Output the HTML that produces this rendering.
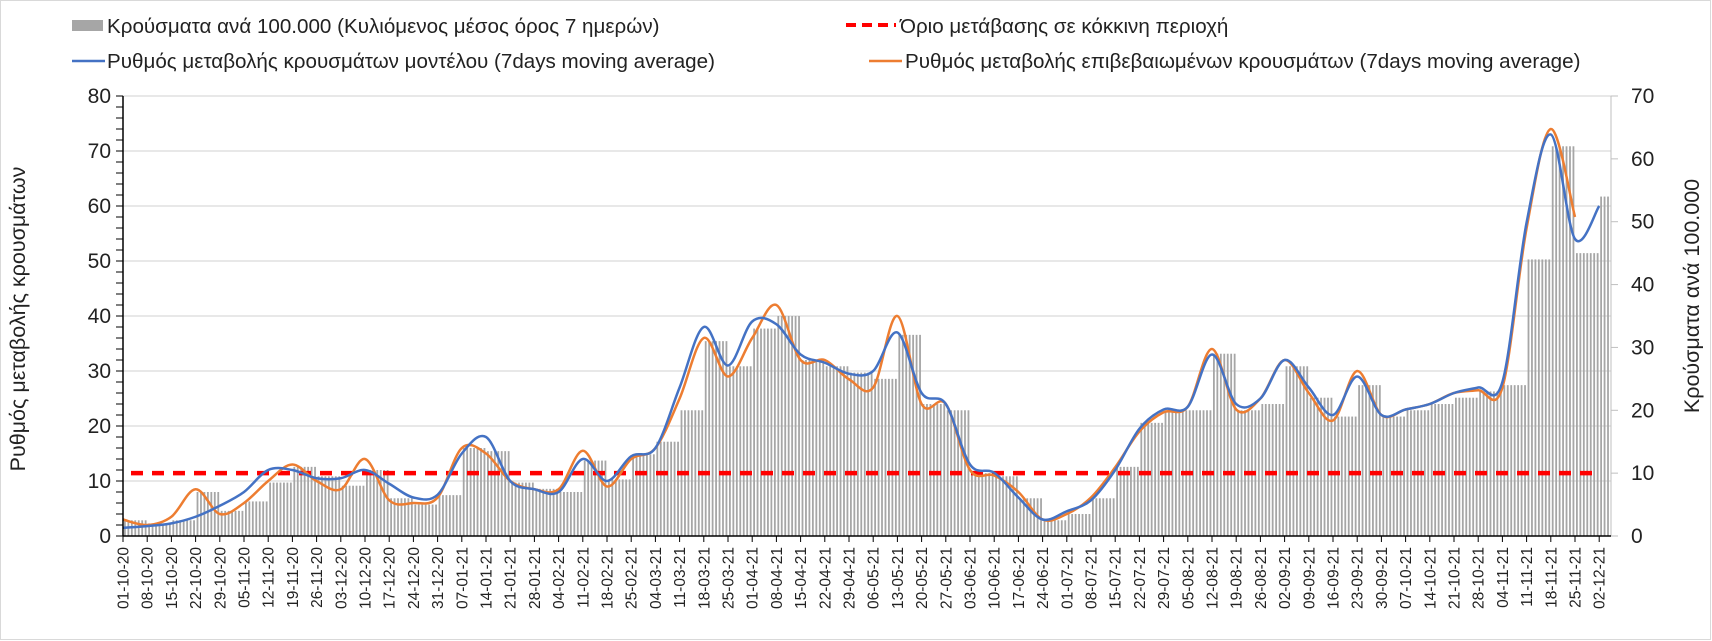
<!DOCTYPE html>
<html><head><meta charset="utf-8">
<style>
html,body{margin:0;padding:0;background:#fff;}
svg{display:block;font-family:"Liberation Sans",sans-serif;}
</style></head>
<body>
<svg id="chart" width="1712" height="641" viewBox="0 0 1712 641" xmlns="http://www.w3.org/2000/svg">
<rect x="0.5" y="0.5" width="1710" height="639" fill="#fff" stroke="#d9d9d9"/>
<g id="grid"></g>
<g id="bars"></g>
<g id="lines"></g>
<g id="axes"></g>
<g font-size="20.6" fill="#222">
  <g>
    <rect x="72" y="20" width="31" height="11" fill="#a6a6a6"/>
    <text x="107" y="33">Κρούσματα ανά 100.000 (Κυλιόμενος μέσος όρος 7 ημερών)</text>
  </g>
  <g>
    <line x1="846" y1="25" x2="896" y2="25" stroke="#ff0000" stroke-width="4" stroke-dasharray="10,6"/>
    <text x="900" y="33">Όριο μετάβασης σε κόκκινη περιοχή</text>
  </g>
  <g>
    <line x1="72" y1="61" x2="105" y2="61" stroke="#4472c4" stroke-width="2.5"/>
    <text x="107" y="68">Ρυθμός μεταβολής κρουσμάτων μοντέλου (7days moving average)</text>
  </g>
  <g>
    <line x1="869" y1="61" x2="902" y2="61" stroke="#ed7d31" stroke-width="2.5"/>
    <text x="905" y="68">Ρυθμός μεταβολής επιβεβαιωμένων κρουσμάτων (7days moving average)</text>
  </g>
</g>
<text transform="translate(25,319) rotate(-90)" text-anchor="middle" font-size="21.5" fill="#222">Ρυθμός μεταβολής κρουσμάτων</text>
<text transform="translate(1699,296) rotate(-90)" text-anchor="middle" font-size="21.5" fill="#222">Κρούσματα ανά 100.000</text>
</svg>
<script>
const dates=["01-10-20","08-10-20","15-10-20","22-10-20","29-10-20","05-11-20","12-11-20","19-11-20","26-11-20","03-12-20","10-12-20","17-12-20","24-12-20","31-12-20","07-01-21","14-01-21","21-01-21","28-01-21","04-02-21","11-02-21","18-02-21","25-02-21","04-03-21","11-03-21","18-03-21","25-03-21","01-04-21","08-04-21","15-04-21","22-04-21","29-04-21","06-05-21","13-05-21","20-05-21","27-05-21","03-06-21","10-06-21","17-06-21","24-06-21","01-07-21","08-07-21","15-07-21","22-07-21","29-07-21","05-08-21","12-08-21","19-08-21","26-08-21","02-09-21","09-09-21","16-09-21","23-09-21","30-09-21","07-10-21","14-10-21","21-10-21","28-10-21","04-11-21","11-11-21","18-11-21","25-11-21","02-12-21"];
const cases=[2.5,2,2.5,7,4,5.5,8.5,11,9.5,8,10.5,6,5,6.5,14,13.5,8.5,7.5,7,12,9,13,15,20,31,27,33,35,28,27,26,25,32,21,20,10,9.5,6,2.5,3.5,6,11,18,20,20,29,20,21,27,22,19,24,19,20,21,22,23,24,44,62,45,54];
const modelRate=[1.5,1.8,2.3,3.5,5.5,8,12,12,10.5,10.5,12,9.5,7,7.5,15,18,10,8.5,8,14,10,14.5,16,27,38,31,39,38.5,33,31.5,29.5,30,37,26,24,13,11.5,7,3,4.5,6.5,12,19.5,23,23.5,33,24,25,32,27,22,29,22,23,24,26,27,28,57,73,54,60];
const confRate=[3,2,3.5,8.5,4,6,10,13,10,8.5,14,6.5,6,7,16,15,10,8.5,8.5,15.5,9,14,16,25,36,29,36,42,32,32,28.5,27,40,24,24,12,11,8,3,4,7,12.5,19,22.5,23.5,34,23,25,32,26,21,30,22,23,24,26,26.5,27,56,74,58];
const leftTicks=[0,10,20,30,40,50,60,70,80];
const rightTicks=[0,10,20,30,40,50,60,70];
const redThreshold=10;

const NS="http://www.w3.org/2000/svg";
const X0=123, WEEK=24.2, Y0=536, YTOP=96, XR=1611;
const xW=i=>X0+i*WEEK;
const yL=v=>Y0-(Y0-YTOP)*v/80;
const yR=v=>Y0-(Y0-YTOP)*v/70;
function mk(tag,attrs,parent){const e=document.createElementNS(NS,tag);for(const k in attrs)e.setAttribute(k,attrs[k]);parent.appendChild(e);return e;}
const grid=document.getElementById('grid'),bars=document.getElementById('bars'),lines=document.getElementById('lines'),axes=document.getElementById('axes');

leftTicks.forEach(v=>{
  if(v>0){const g=mk('line',{x1:X0,x2:XR,y1:yL(v),y2:yL(v),stroke:'#d9d9d9','stroke-width':1.3},grid);
  
  }
  const t=mk('text',{x:X0-12,y:yL(v)+7,'text-anchor':'end','font-size':21,fill:'#222'},axes);
  t.textContent=v;
  
  
});
for(let v=0;v<=80;v+=2){mk('line',{x1:X0-7,x2:X0,y1:yL(v),y2:yL(v),stroke:'#000','stroke-width':1},axes);}
rightTicks.forEach(v=>{
  mk('line',{x1:XR,x2:XR+7,y1:yR(v),y2:yR(v),stroke:'#bfbfbf','stroke-width':1},axes);
  const t=mk('text',{x:XR+20,y:yR(v)+7,'font-size':21,fill:'#222'},axes);
  t.textContent=v;
  
  
});

cases.forEach((v,i)=>{
  for(let d=0;d<7;d++){
    const x=xW(i)+d*WEEK/7+1;
    if(x>XR-3)break;
    const b=mk('rect',{x:x,y:yR(v),width:1.8,height:Y0-yR(v),fill:'#a6a6a6'},bars);
    
    
  }
});

const rl=mk('line',{x1:X0+8,x2:1594,y1:yR(redThreshold),y2:yR(redThreshold),stroke:'#ff0000','stroke-width':4.5,'stroke-dasharray':'12,9'},lines);



function smoothPath(vals){
  const p=vals.map((v,i)=>[xW(i),yL(v)]);
  let d=`M${p[0][0]},${p[0][1]}`;
  for(let i=0;i<p.length-1;i++){
    const p0=p[i-1]||p[i],p1=p[i],p2=p[i+1],p3=p[i+2]||p2;
    const c1=[p1[0]+(p2[0]-p0[0])/6,p1[1]+(p2[1]-p0[1])/6];
    const c2=[p2[0]-(p3[0]-p1[0])/6,p2[1]-(p3[1]-p1[1])/6];
    d+=` C${c1[0]},${c1[1]} ${c2[0]},${c2[1]} ${p2[0]},${p2[1]}`;
  }
  return d;
}
const ob=mk('path',{d:smoothPath(confRate),fill:'none',stroke:'#ed7d31','stroke-width':2.5},lines);


const bl=mk('path',{d:smoothPath(modelRate),fill:'none',stroke:'#4472c4','stroke-width':2.5},lines);



mk('line',{x1:X0,x2:X0,y1:YTOP,y2:Y0,stroke:'#000','stroke-width':1.5},axes);
mk('line',{x1:XR,x2:XR,y1:YTOP,y2:Y0,stroke:'#bfbfbf','stroke-width':1},axes);
mk('line',{x1:X0,x2:XR,y1:Y0,y2:Y0,stroke:'#000','stroke-width':1.5},axes);
dates.forEach((s,i)=>{
  mk('line',{x1:xW(i),x2:xW(i),y1:Y0,y2:Y0+6,stroke:'#000','stroke-width':1},axes);
  const t=mk('text',{transform:`translate(${xW(i)+5.5},${Y0+11}) rotate(-90)`,'text-anchor':'end','font-size':15.5,fill:'#222'},axes);
  t.textContent=s;
  
  
});
</script>
</body></html>
